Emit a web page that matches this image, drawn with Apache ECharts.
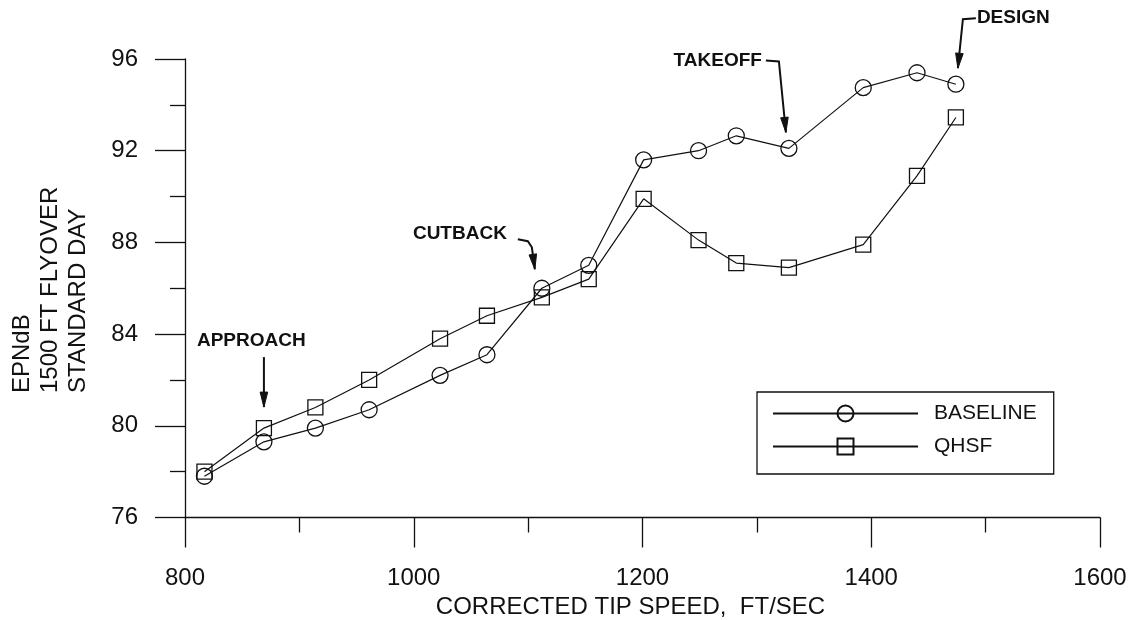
<!DOCTYPE html>
<html>
<head>
<meta charset="utf-8">
<script src="https://cdn.jsdelivr.net/npm/echarts@6/dist/echarts.min.js"></script>
<style>
html,body{margin:0;padding:0;background:#fff;}
#c{width:1135px;height:620px;}
</style>
</head>
<body>
<div id="c"></div>
<script>
// ---- data ----
const tipSpeed = [817, 869, 914, 961, 1023, 1064, 1112, 1153, 1201, 1249, 1282, 1328, 1393, 1440, 1474];
const baseline = [77.8, 79.3, 79.9, 80.7, 82.2, 83.1, 86.0, 87.0, 91.6, 92.0, 92.65, 92.1, 94.75, 95.4, 94.9];
const qhsf = [78.0, 79.9, 80.8, 82.0, 83.8, 84.8, 85.6, 86.4, 89.9, 88.1, 87.1, 86.9, 87.9, 90.9, 93.45];
const seriesNames = ['BASELINE', 'QHSF'];
const xTitle = 'CORRECTED TIP SPEED,  FT/SEC';
const yTitleLines = ['EPNdB', '1500 FT FLYOVER', 'STANDARD DAY'];
// annotations: label, series index, point index
const notes = [
  {label: 'APPROACH', series: 1, idx: 1},
  {label: 'CUTBACK', series: 0, idx: 6},
  {label: 'TAKEOFF', series: 0, idx: 11},
  {label: 'DESIGN', series: 0, idx: 14}
];

const INK = '#111';
const FONT = '"Liberation Sans", Arial, sans-serif';
const pairs = arr => tipSpeed.map((x, i) => [x, arr[i]]);

const chart = echarts.init(document.getElementById('c'));

function makeSeries(name, data, symbol, size) {
  return {
    name: name, type: 'line', data: pairs(data),
    symbol: symbol, symbolSize: size,
    lineStyle: {color: INK, width: 1.2},
    itemStyle: {color: 'rgba(0,0,0,0)', borderColor: INK, borderWidth: 1.3},
    emphasis: {disabled: true},
    z: 3
  };
}

function axisCommon(margin) {
  return {
    axisLine: {show: true, lineStyle: {color: INK, width: 1.3}},
    axisTick: {show: true, inside: false, length: 30, lineStyle: {color: INK, width: 1.3}},
    minorTick: {show: true, splitNumber: 2, length: 15, lineStyle: {color: INK, width: 1.3}},
    splitLine: {show: false},
    minorSplitLine: {show: false},
    axisLabel: {color: INK, fontSize: 24, fontFamily: FONT, margin: margin, formatter: v => String(v)}
  };
}

chart.setOption({
  animation: false,
  backgroundColor: '#fff',
  grid: {left: 185, right: 35, top: 59, bottom: 102.5, containLabel: false, outerBoundsMode: 'none'},
  xAxis: Object.assign({
    type: 'value', min: 800, max: 1600, interval: 200,
    name: xTitle, nameLocation: 'middle', nameGap: 74,
    nameTextStyle: {color: INK, fontSize: 24, fontFamily: FONT, padding: [0, 24, 0, 0]}
  }, axisCommon(49)),
  yAxis: Object.assign({
    type: 'value', min: 76, max: 96, interval: 4
  }, axisCommon(47)),
  legend: {
    show: true, orient: 'vertical', left: 757, top: 392,
    padding: [11, 17, 17, 15], itemGap: 12, itemWidth: 145, itemHeight: 20,
    borderColor: INK, borderWidth: 1.3, selectedMode: false,
    textStyle: {fontSize: 21, fontFamily: FONT, color: INK, lineHeight: 20, padding: [0, 0, 0, 11]},
    data: seriesNames
  },
  series: [
    makeSeries(seriesNames[0], baseline, 'circle', 16),
    makeSeries(seriesNames[1], qhsf, 'rect', 15)
  ]
});

// ---- annotations, positioned relative to the data points they point to ----
function arrowEls(pts) {
  const els = [];
  els.push({type: 'polyline', shape: {points: pts}, style: {stroke: INK, lineWidth: 2, fill: null}, z: 10});
  const a = pts[pts.length - 2], b = pts[pts.length - 1];
  const dx = b[0] - a[0], dy = b[1] - a[1];
  const len = Math.sqrt(dx * dx + dy * dy);
  const ux = dx / len, uy = dy / len;
  const hl = 15, hw = 3.8;
  const base = [b[0] - ux * hl, b[1] - uy * hl];
  els.push({type: 'polygon', shape: {points: [b, [base[0] - uy * hw, base[1] + ux * hw], [base[0] + uy * hw, base[1] - ux * hw]]},
    style: {fill: INK, stroke: INK, lineWidth: 1}, z: 10});
  return els;
}
function txt(s, x, y, align) {
  return {type: 'text', x: x, y: y, z: 10,
    style: {text: s, fill: INK, font: 'bold 19px ' + FONT, align: align, verticalAlign: 'middle'}};
}
const seriesData = [baseline, qhsf];
const g = [];
notes.forEach(n => {
  const p = chart.convertToPixel({seriesIndex: n.series}, [tipSpeed[n.idx], seriesData[n.series][n.idx]]);
  const tx = p[0], ty = p[1];
  if (n.label === 'APPROACH') {
    g.push(txt(n.label, tx - 67, ty - 87, 'left'));
    g.push(...arrowEls([[tx, ty - 71], [tx, ty - 21]]));
  } else if (n.label === 'CUTBACK') {
    g.push(txt(n.label, tx - 35, ty - 54, 'right'));
    g.push(...arrowEls([[tx - 24, ty - 49], [tx - 14, ty - 47], [tx - 10, ty - 41], [tx - 7, ty - 19]]));
  } else if (n.label === 'TAKEOFF') {
    g.push(txt(n.label, tx - 27, ty - 88, 'right'));
    g.push(...arrowEls([[tx - 23, ty - 88], [tx - 10, ty - 87], [tx - 3, ty - 16]]));
  } else if (n.label === 'DESIGN') {
    g.push(txt(n.label, tx + 21, ty - 66, 'left'));
    g.push(...arrowEls([[tx + 20, ty - 66], [tx + 7, ty - 65], [tx + 2, ty - 16]]));
  }
});
// y-axis title: three rotated lines, aligned at their bottom end
yTitleLines.forEach((s, i) => {
  g.push({type: 'text', x: 22 + i * 28, y: 393, rotation: Math.PI / 2, z: 10,
    style: {text: s, fill: INK, font: '24px ' + FONT, align: 'left', verticalAlign: 'middle'}});
});
chart.setOption({graphic: {elements: g}});
</script>
</body>
</html>
